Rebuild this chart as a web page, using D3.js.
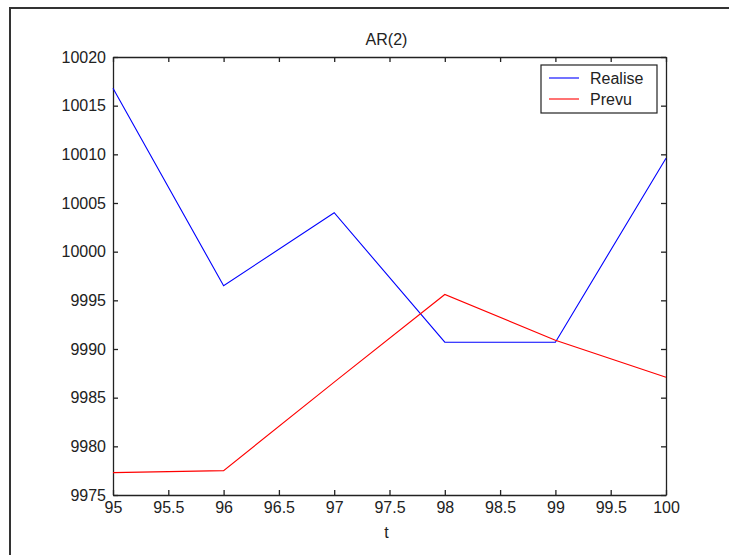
<!DOCTYPE html>
<html><head><meta charset="utf-8">
<script src="https://cdn.jsdelivr.net/npm/d3@7"></script>
<style>
body{margin:0;background:#fff;}
text{font-family:"Liberation Sans",Arial,sans-serif;fill:#222;}
</style></head>
<body><svg id="c" width="729" height="555"></svg>
<script>
const tValues = [95, 96, 97, 98, 99, 100];
const realise = [10016.8, 9996.5, 10004.0, 9990.7, 9990.7, 10009.6];
const prevu = [9977.3, 9977.5, 9986.6, 9995.6, 9990.9, 9987.1];
const xTicks = [95, 95.5, 96, 96.5, 97, 97.5, 98, 98.5, 99, 99.5, 100];
const yTicks = [9975, 9980, 9985, 9990, 9995, 10000, 10005, 10010, 10015, 10020];
const seriesNames = ["Realise", "Prevu"];
const seriesColors = ["#0000ff", "#ff0000"];
const titleText = "AR(2)";
const xLabel = "t";

const svg = d3.select("#c");
svg.append("rect").attr("x",0).attr("y",0).attr("width",729).attr("height",555).attr("fill","#fff");
svg.append("line").attr("x1",10).attr("x2",729).attr("y1",8).attr("y2",8).attr("stroke","#333").attr("stroke-width",2);
svg.append("line").attr("x1",10).attr("x2",10).attr("y1",7).attr("y2",555).attr("stroke","#333").attr("stroke-width",2);

const L=113, R=666, T=57, B=495;
const x = d3.scaleLinear().domain([95,100]).range([L,R]);
const y = d3.scaleLinear().domain([9975,10020]).range([B,T]);

const axCol = "#222";
const fmt = d => String(d);
const fs = "16px";

const gx = svg.append("g").attr("transform",`translate(0,${B})`)
  .call(d3.axisBottom(x).tickValues(xTicks).tickFormat(fmt).tickSizeInner(-5).tickSizeOuter(0).tickPadding(7));
const gxt = svg.append("g").attr("transform",`translate(0,${T})`)
  .call(d3.axisTop(x).tickValues(xTicks).tickFormat("").tickSizeInner(-5).tickSizeOuter(0));
const gy = svg.append("g").attr("transform",`translate(${L},0)`)
  .call(d3.axisLeft(y).tickValues(yTicks).tickFormat(fmt).tickSizeInner(-5).tickSizeOuter(0).tickPadding(7));
const gyr = svg.append("g").attr("transform",`translate(${R},0)`)
  .call(d3.axisRight(y).tickValues(yTicks).tickFormat("").tickSizeInner(-5).tickSizeOuter(0));
[gx,gxt,gy,gyr].forEach(g=>{
  g.selectAll("path").attr("stroke",axCol).attr("stroke-width",1.3);
  g.selectAll("line").attr("stroke",axCol).attr("stroke-width",1.3);
  g.selectAll("text").attr("font-size",fs).attr("font-family","Liberation Sans, Arial, sans-serif").attr("fill","#222");
});
gx.selectAll("text").attr("dy","0.71em");

const line = d3.line().x((d,i)=>x(tValues[i])).y(d=>y(d));
[realise, prevu].forEach((s,k)=>{
  svg.append("path").attr("d",line(s)).attr("fill","none").attr("stroke",seriesColors[k]).attr("stroke-width",1.1);
});

svg.append("text").attr("x",(L+R)/2-3).attr("y",45).attr("text-anchor","middle").attr("font-size",fs).text(titleText);
svg.append("text").attr("x",(L+R)/2-3).attr("y",538).attr("text-anchor","middle").attr("font-size",fs).text(xLabel);

const lg = svg.append("g");
lg.append("rect").attr("x",541).attr("y",65).attr("width",116).attr("height",48).attr("fill","#fff").attr("stroke","#222").attr("stroke-width",1.2);
seriesNames.forEach((n,i)=>{
  const yy = 78 + i*21;
  lg.append("line").attr("x1",549).attr("x2",579).attr("y1",yy).attr("y2",yy).attr("stroke",seriesColors[i]).attr("stroke-width",1.1);
  lg.append("text").attr("x",590).attr("y",yy+5.5).attr("font-size",fs).text(n);
});
</script></body></html>
